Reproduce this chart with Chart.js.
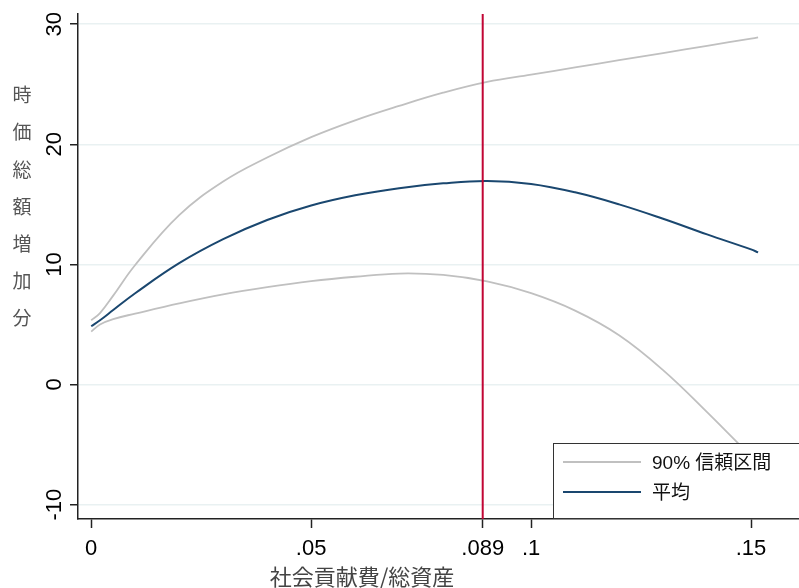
<!DOCTYPE html>
<html>
<head>
<meta charset="utf-8">
<script src="https://cdn.jsdelivr.net/npm/chart.js@4.4.1/dist/chart.umd.min.js"></script>
<style>
  body { margin: 0; background: #fff; }
  canvas { display: block; }
</style>
</head>
<body>
<canvas id="chart" width="799" height="588"></canvas>
<script>
// x grid (社会貢献費/総資産) and series
const xGrid = [0, 0.002, 0.005, 0.01, 0.02, 0.03, 0.04, 0.05, 0.06, 0.07, 0.08, 0.09, 0.10, 0.11, 0.12, 0.13, 0.14, 0.15, 0.1516];
const upper = [5.35, 5.95, 7.4, 9.95, 14.1, 16.9, 18.9, 20.6, 22.0, 23.2, 24.3, 25.2, 25.8, 26.4, 27.0, 27.6, 28.2, 28.8, 28.9];
const mean  = [4.85, 5.35, 6.2, 7.6, 10.1, 12.1, 13.7, 14.9, 15.75, 16.35, 16.75, 16.95, 16.7, 16.0, 15.0, 13.8, 12.5, 11.25, 11.0];
const lower = [4.4, 5.0, 5.45, 5.9, 6.75, 7.5, 8.1, 8.6, 8.97, 9.24, 9.12, 8.58, 7.6, 6.15, 4.1, 1.2, -2.3, -6.0, -6.6];

const xTicks = [0, 0.05, 0.089, 0.1, 0.15];
const xTickLabels = ["0", ".05", ".089", ".1", ".15"];
const yTicks = [-10, 0, 10, 20, 30];
const xLine = 0.089;

const xTitle = "社会貢献費/総資産";
const yTitle = "時価総額増加分";
const legendLabels = ["90% 信頼区間", "平均"];

const yMin = -11.2, yMax = 30.85;

const ciColor = "#c0c0c0";
const meanColor = "#1a476f";
const lineColor = "#c10534";
const axisColor = "#222";
const latin = "'Liberation Sans', Arial, 'Noto Sans CJK JP', sans-serif";
const cjk = "'Noto Sans CJK JP', sans-serif";

function pts(ys) {
    return xGrid.map((x, i) => ({ x: x, y: ys[i] }));
}

const curve = {
    pointRadius: 0,
    fill: false,
    tension: 0.4
};

const extras = {
    id: "extras",
    afterDraw(chart) {
        const ctx = chart.ctx;
        const ys = chart.scales.y;
        ctx.save();

        // rotated y tick labels
        ctx.fillStyle = "#000";
        ctx.font = "22px " + latin;
        ctx.textAlign = "center";
        ctx.textBaseline = "middle";
        ys.ticks.forEach(t => {
            const py = ys.getPixelForValue(t.value);
            ctx.save();
            ctx.translate(55, py);
            ctx.rotate(-Math.PI / 2);
            ctx.fillText(String(t.value), 0, 0);
            ctx.restore();
        });

        // stacked y title
        ctx.fillStyle = "#555";
        ctx.font = "19px " + cjk;
        Array.from(yTitle).forEach((ch, i) => {
            ctx.fillText(ch, 22, 95 + i * 37.2);
        });

        // x title
        ctx.fillStyle = "#444";
        ctx.font = "22px " + cjk;
        ctx.fillText(xTitle, 362, 577);

        // legend box
        const bx = 553, by = 443, bw = 260, bh = 75;
        ctx.fillStyle = "#fff";
        ctx.fillRect(bx, by, bw, bh);
        ctx.strokeStyle = "#333";
        ctx.lineWidth = 1;
        ctx.strokeRect(bx + 0.5, by + 0.5, bw, bh);
        const colors = [ciColor, meanColor];
        ctx.textAlign = "left";
        ctx.font = "19px " + latin;
        legendLabels.forEach((lab, i) => {
            const ly = 462 + i * 30;
            ctx.strokeStyle = colors[i];
            ctx.lineWidth = 2;
            ctx.beginPath();
            ctx.moveTo(563, ly);
            ctx.lineTo(641, ly);
            ctx.stroke();
            ctx.fillStyle = "#111";
            ctx.fillText(lab, 652, ly + 2);
        });
        ctx.restore();
    }
};

new Chart(document.getElementById("chart"), {
    type: "line",
    data: {
        datasets: [
            {
                label: "xline",
                data: [{ x: xLine, y: yMin }, { x: xLine, y: yMax }],
                borderColor: lineColor,
                borderWidth: 2,
                pointRadius: 0,
                order: 0
            },
            Object.assign({ label: legendLabels[1], data: pts(mean), borderColor: meanColor, borderWidth: 2, order: 1 }, curve),
            Object.assign({ label: legendLabels[0], data: pts(upper), borderColor: ciColor, borderWidth: 1.8, order: 2 }, curve),
            Object.assign({ label: "lower", data: pts(lower), borderColor: ciColor, borderWidth: 1.8, order: 3 }, curve)
        ]
    },
    options: {
        responsive: false,
        animation: false,
        layout: { padding: { top: 14, right: 0, left: 0, bottom: 0 } },
        plugins: {
            legend: { display: false },
            tooltip: { enabled: false }
        },
        scales: {
            x: {
                type: "linear",
                min: -0.003,
                max: 0.1609,
                afterBuildTicks: s => { s.ticks = xTicks.map(v => ({ value: v })); },
                afterFit: s => { s.height = 69; },
                ticks: {
                    autoSkip: false,
                    maxRotation: 0,
                    padding: 8,
                    color: "#000",
                    font: { family: latin, size: 22 },
                    callback: v => xTickLabels[xTicks.indexOf(v)]
                },
                grid: {
                    drawOnChartArea: false,
                    tickLength: 9,
                    tickColor: axisColor,
                    tickWidth: 1.5
                },
                border: { color: axisColor, width: 1.5 }
            },
            y: {
                type: "linear",
                min: yMin,
                max: yMax,
                afterBuildTicks: s => { s.ticks = yTicks.map(v => ({ value: v })); },
                afterFit: s => { s.width = 78; },
                ticks: { display: false },
                grid: {
                    color: "#e9f1f2",
                    lineWidth: 1.5,
                    tickLength: 8,
                    tickColor: axisColor,
                    tickWidth: 1.5
                },
                border: { color: axisColor, width: 1.5 }
            }
        }
    },
    plugins: [extras]
});
</script>
</body>
</html>
